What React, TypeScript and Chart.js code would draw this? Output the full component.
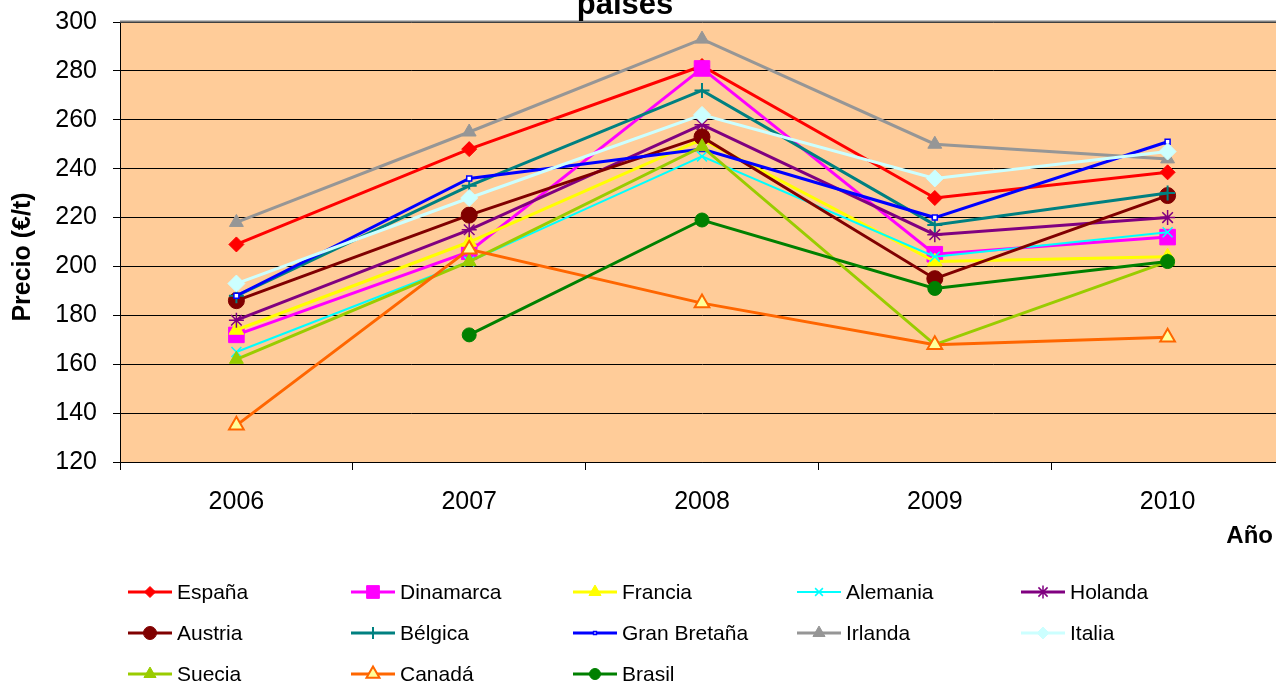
import React, { useEffect, useRef } from 'react';
import Chart from 'chart.js/auto';
import { drawPoint } from 'chart.js/helpers';

const years = ['2006', '2007', '2008', '2009', '2010'];

const espana = [209, 248, 282, 228, 238.5];
const dinamarca = [172, 206, 281, 205, 212];
const francia = [174, 210, 252, 202, 204];
const alemania = [165, 202, 245, 204, 214];
const holanda = [178, 215, 258, 213, 220];
const austria = [186, 221, 253, 195, 229];
const belgica = [188, 233, 272, 217, 230];
const granBretana = [188, 236, 248, 220, 251];
const irlanda = [218, 255, 293, 250, 244];
const italia = [193, 228, 262, 236, 247];
const suecia = [162, 202, 249, 168, 202];
const canada = [135, 207, 185, 168, 171];
const brasil = [null, 172, 219, 191, 202];

const yTicks = [120, 140, 160, 180, 200, 220, 240, 260, 280, 300];

const titleText = 'países';
const yTitle = 'Precio (€/t)';
const xTitle = 'Año';

const FONT = "'Liberation Sans', Arial, sans-serif";

type S = {
  label: string;
  data: (number | null)[];
  color: string;
  style: string;
  radius: number;
  legendRadius: number;
  bg?: string;
  bw?: number;
  lw?: number;
};

const series: S[] = [
  { label: 'España', data: espana, color: '#FF0000', style: 'rectRot', radius: 7.5, legendRadius: 5.5 },
  { label: 'Dinamarca', data: dinamarca, color: '#FF00FF', style: 'rect', radius: 11, legendRadius: 9 },
  { label: 'Francia', data: francia, color: '#FFFF00', style: 'triangle', radius: 8.5, legendRadius: 7 },
  { label: 'Alemania', data: alemania, color: '#00FFFF', style: 'crossRot', radius: 7, legendRadius: 5.5, bw: 1.5, lw: 2 },
  { label: 'Holanda', data: holanda, color: '#800080', style: 'star', radius: 7.5, legendRadius: 6.5, bw: 1.5 },
  { label: 'Austria', data: austria, color: '#800000', style: 'circle', radius: 8, legendRadius: 6.5 },
  { label: 'Bélgica', data: belgica, color: '#008080', style: 'cross', radius: 7.5, legendRadius: 6, bw: 2 },
  { label: 'Gran Bretaña', data: granBretana, color: '#0000FF', style: 'rect', radius: 3.5, legendRadius: 2, bg: '#FFFFFF', bw: 1.5 },
  { label: 'Irlanda', data: irlanda, color: '#969696', style: 'triangle', radius: 8, legendRadius: 7 },
  { label: 'Italia', data: italia, color: '#CCFFFF', style: 'rectRot', radius: 8.5, legendRadius: 6 },
  { label: 'Suecia', data: suecia, color: '#99CC00', style: 'triangle', radius: 8, legendRadius: 7 },
  { label: 'Canadá', data: canada, color: '#FF6600', style: 'triangle', radius: 8.5, legendRadius: 7.5, bg: '#FFFF99', bw: 2 },
  { label: 'Brasil', data: brasil, color: '#008000', style: 'circle', radius: 7, legendRadius: 5.5 },
];

const legendCols = [128, 351, 573, 797, 1021];
const legendRows = [592, 633, 674];

const decorPlugin = {
  id: 'decor',
  beforeDraw(chart: any) {
    const { ctx, chartArea } = chart;
    ctx.save();
    ctx.fillStyle = '#FFCC99';
    ctx.fillRect(chartArea.left, chartArea.top, chartArea.right - chartArea.left, chartArea.bottom - chartArea.top);
    ctx.restore();
  },
  afterDraw(chart: any) {
    const { ctx, chartArea } = chart;
    ctx.save();
    ctx.strokeStyle = '#808080';
    ctx.lineWidth = 2;
    ctx.beginPath();
    ctx.moveTo(chartArea.left, chartArea.top - 0.5);
    ctx.lineTo(chartArea.right, chartArea.top - 0.5);
    ctx.stroke();

    ctx.fillStyle = '#000';
    ctx.font = `bold 31px ${FONT}`;
    ctx.textAlign = 'center';
    ctx.textBaseline = 'alphabetic';
    ctx.fillText(titleText, 625, 14);
    ctx.font = `bold 24px ${FONT}`;
    ctx.textAlign = 'right';
    ctx.fillText(xTitle, 1273, 543);
    ctx.save();
    ctx.translate(23, 257);
    ctx.rotate(-Math.PI / 2);
    ctx.font = `bold 25px ${FONT}`;
    ctx.textAlign = 'center';
    ctx.textBaseline = 'middle';
    ctx.fillText(yTitle, 0, 0);
    ctx.restore();

    chart.data.datasets.forEach((ds: any, i: number) => {
      const x0 = legendCols[i % 5];
      const y = legendRows[Math.floor(i / 5)];
      ctx.save();
      ctx.strokeStyle = ds.borderColor;
      ctx.lineWidth = ds.borderWidth;
      ctx.beginPath();
      ctx.moveTo(x0, y);
      ctx.lineTo(x0 + 44, y);
      ctx.stroke();
      ctx.fillStyle = ds.pointBackgroundColor;
      ctx.strokeStyle = ds.pointBorderColor;
      ctx.lineWidth = ds.pointBorderWidth;
      drawPoint(ctx, {
        pointStyle: ds.pointStyle,
        rotation: 0,
        radius: series[i].legendRadius,
        borderWidth: ds.pointBorderWidth,
      } as any, x0 + 22, y);
      ctx.restore();
      ctx.fillStyle = '#000';
      ctx.font = `21px ${FONT}`;
      ctx.textAlign = 'left';
      ctx.textBaseline = 'middle';
      ctx.fillText(ds.label, x0 + 49, y + 1);
    });
    ctx.restore();
  },
};

export default function App() {
  const ref = useRef<HTMLCanvasElement | null>(null);

  useEffect(() => {
    if (!ref.current) return;
    Chart.defaults.font.family = FONT;
    const chart = new Chart(ref.current, {
      type: 'line',
      data: {
        labels: years,
        datasets: series.map((s, i) => ({
          label: s.label,
          data: s.data,
          borderColor: s.color,
          backgroundColor: s.bg ?? s.color,
          borderWidth: s.lw ?? 3,
          pointStyle: s.style,
          pointRadius: s.radius,
          pointHoverRadius: s.radius,
          pointBackgroundColor: s.bg ?? s.color,
          pointBorderColor: s.color,
          pointBorderWidth: s.bw ?? 1,
          tension: 0,
          fill: false,
          spanGaps: false,
          order: -i,
        })) as any,
      },
      options: {
        responsive: false,
        animation: false,
        events: [],
        layout: { padding: { top: 22, bottom: 0, left: 0, right: 16 } },
        plugins: {
          legend: { display: false },
          tooltip: { enabled: false },
          title: { display: false },
        },
        scales: {
          x: {
            type: 'category',
            offset: true,
            grid: {
              offset: true,
              drawOnChartArea: false,
              drawTicks: true,
              tickLength: 8,
              color: '#000',
            },
            border: { display: true, color: '#000', width: 1 },
            ticks: {
              color: '#000',
              font: { size: 25 },
              padding: 17,
              maxRotation: 0,
              autoSkip: false,
            },
            afterFit: (s: any) => {
              s.height = 222;
              s.paddingLeft = 0;
              s.paddingRight = 0;
            },
          },
          y: {
            min: yTicks[0],
            max: yTicks[yTicks.length - 1],
            afterBuildTicks: (s: any) => {
              s.ticks = yTicks.map((v) => ({ value: v }));
            },
            grid: {
              color: '#000',
              lineWidth: 1,
              tickLength: 7,
              drawTicks: true,
            },
            border: { display: true, color: '#000', width: 1 },
            ticks: {
              color: '#000',
              font: { size: 25 },
              padding: 16,
            },
            afterFit: (s: any) => {
              s.width = 120;
              s.paddingTop = 0;
              s.paddingBottom = 0;
            },
          },
        },
      },
      plugins: [decorPlugin],
    });
    return () => chart.destroy();
  }, []);

  return (
    <div
      style={{
        position: 'fixed',
        left: 0,
        top: 0,
        width: 1276,
        height: 684,
        overflow: 'hidden',
        background: '#fff',
      }}
    >
      <canvas ref={ref} width={1300} height={684} style={{ display: 'block' }} />
    </div>
  );
}
